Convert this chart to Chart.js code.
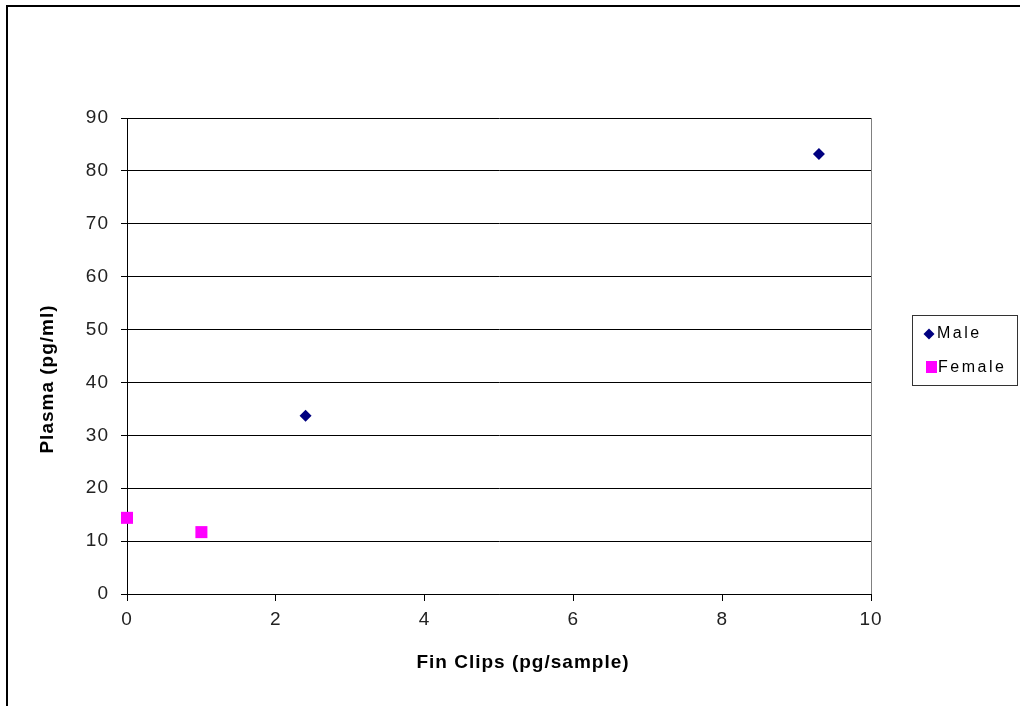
<!DOCTYPE html>
<html>
<head>
<meta charset="utf-8">
<script src="https://cdn.jsdelivr.net/npm/chart.js@4.4.0/dist/chart.umd.min.js"></script>
<style>
  html, body { margin: 0; padding: 0; background: #fff; }
  #wrap { width: 1020px; height: 706px; }
</style>
</head>
<body>
<div id="wrap"><canvas id="myChart" width="1020" height="706"></canvas></div>
<script>
// data
const seriesNames = ['Male', 'Female'];
const maleX = [2.4, 9.3];
const maleY = [33.7, 83.2];
const femaleX = [0, 1.0];
const femaleY = [14.4, 11.7];
const xTicks = [0, 2, 4, 6, 8, 10];
const yTicks = [0, 10, 20, 30, 40, 50, 60, 70, 80, 90];
const xTitle = 'Fin Clips (pg/sample)';
const yTitle = 'Plasma (pg/ml)';

const pts = (xs, ys) => xs.map((x, i) => ({ x: x, y: ys[i] }));

const FONT = "'Liberation Sans', Arial, sans-serif";

// excel-ish wide letter spacing for all the text
const spacing = {
    id: 'spacing',
    beforeInit(chart) { chart.ctx.letterSpacing = '1px'; },
    beforeDraw(chart) { chart.ctx.letterSpacing = '1px'; }
};

// outer frame, plot right border, axis titles and the boxed legend
const decor = {
    id: 'decor',
    afterDraw(chart) {
        const c = chart.ctx;
        const a = chart.chartArea;
        c.save();
        c.strokeStyle = '#000';
        c.lineWidth = 2;
        c.beginPath();
        c.moveTo(7, 706);
        c.lineTo(7, 6);
        c.lineTo(1020, 6);
        c.stroke();

        c.strokeStyle = '#808080';
        c.lineWidth = 1;
        c.beginPath();
        c.moveTo(Math.round(a.right) + 0.5, a.top);
        c.lineTo(Math.round(a.right) + 0.5, a.bottom);
        c.stroke();

        // axis titles (excel centres them a bit off the plot centre)
        c.fillStyle = '#000';
        c.font = 'bold 19px ' + FONT;
        c.letterSpacing = '1px';
        c.textAlign = 'center';
        c.textBaseline = 'middle';
        c.fillText(xTitle, 523, 663);
        c.save();
        c.translate(48, 379);
        c.rotate(-Math.PI / 2);
        c.fillText(yTitle, 0, 0);
        c.restore();

        // legend
        const ds = chart.data.datasets;
        c.strokeStyle = '#333';
        c.strokeRect(912.5, 315.5, 105, 70);
        c.fillStyle = ds[0].backgroundColor;
        c.beginPath();
        c.moveTo(929, 328.5); c.lineTo(934.5, 334); c.lineTo(929, 339.5); c.lineTo(923.5, 334);
        c.closePath(); c.fill();
        c.fillStyle = ds[1].backgroundColor;
        c.fillRect(926, 361, 11, 12);
        c.font = '16px ' + FONT;
        c.letterSpacing = '2.5px';
        c.fillStyle = '#000';
        c.textAlign = 'left';
        c.fillText(seriesNames[0], 937, 334);
        c.fillText(seriesNames[1], 938, 368);
        c.restore();
    }
};

const chart = new Chart(document.getElementById('myChart'), {
    type: 'scatter',
    data: {
        datasets: [{
            label: seriesNames[0],
            data: pts(maleX, maleY),
            pointStyle: 'rectRot',
            pointRadius: 6,
            pointHoverRadius: 6,
            backgroundColor: '#000080',
            borderColor: '#000080',
            borderWidth: 0,
            clip: false
        }, {
            label: seriesNames[1],
            data: pts(femaleX, femaleY),
            pointStyle: 'rect',
            pointRadius: 8.5,
            pointHoverRadius: 8.5,
            backgroundColor: '#ff00ff',
            borderColor: '#ff00ff',
            borderWidth: 0,
            clip: false
        }]
    },
    options: {
        responsive: false,
        animation: false,
        layout: { padding: { left: 0, top: 118, right: 149, bottom: 0 } },
        plugins: {
            legend: { display: false },
            tooltip: { enabled: false }
        },
        scales: {
            x: {
                type: 'linear',
                min: 0,
                max: 10,
                afterBuildTicks: (s) => { s.ticks = xTicks.map(v => ({ value: v })); },
                afterFit: (s) => { s.height = 112; },
                grid: { drawOnChartArea: false, drawTicks: true, tickLength: 7, color: '#000' },
                border: { color: '#000', width: 1 },
                ticks: { color: '#222', font: { family: FONT, size: 19 }, padding: 7 }
            },
            y: {
                type: 'linear',
                min: 0,
                max: 90,
                afterBuildTicks: (s) => { s.ticks = yTicks.map(v => ({ value: v })); },
                afterFit: (s) => { s.width = 127; },
                grid: { color: '#000', tickLength: 6 },
                border: { color: '#000', width: 1 },
                ticks: { color: '#222', font: { family: FONT, size: 19 }, padding: 12 }
            }
        }
    },
    plugins: [spacing, decor]
});
</script>
</body>
</html>
